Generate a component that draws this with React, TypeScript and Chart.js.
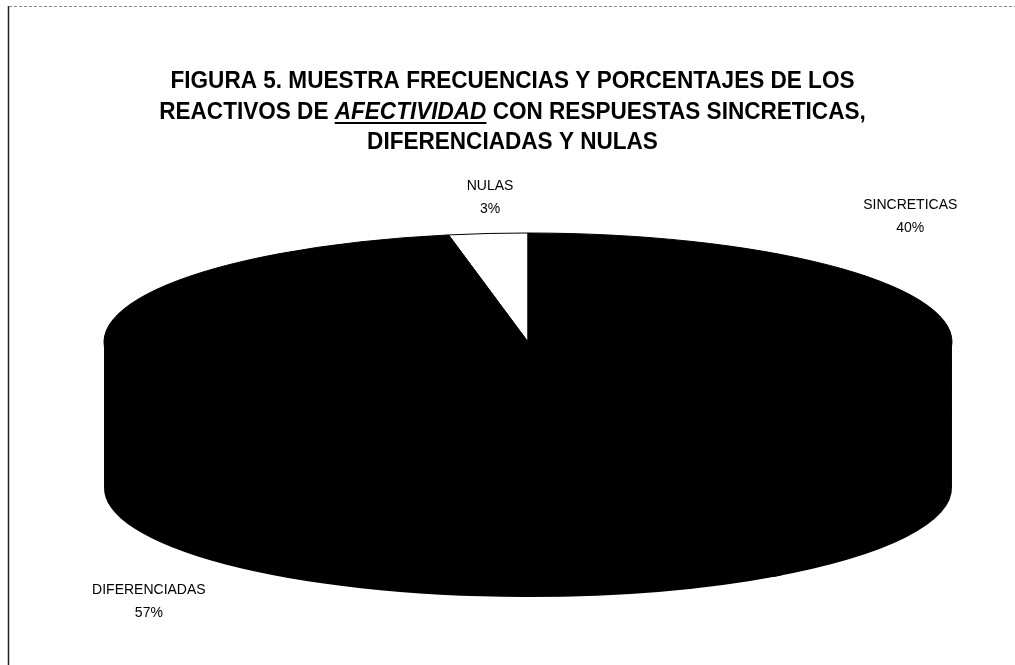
import React, { useEffect, useRef } from "react";
import { Chart, registerables } from "chart.js";

Chart.register(...registerables);

// ---- data ----
const categories = ["SINCRETICAS", "DIFERENCIADAS", "NULAS"];
const percentages = [40, 57, 3];
const sliceColors = ["#000000", "#000000", "#ffffff"];
const sideColors = ["#000000", "#000000", "#000000"];

// title lines: each line is a list of [text, style] segments
const titleLine1 = [["FIGURA 5. MUESTRA FRECUENCIAS Y PORCENTAJES DE LOS", "normal"]];
const titleLine2 = [
  ["REACTIVOS DE ", "normal"],
  ["AFECTIVIDAD", "emph"],
  [" CON RESPUESTAS SINCRETICAS,", "normal"],
];
const titleLine3 = [["DIFERENCIADAS Y NULAS", "normal"]];
const titleLines = [titleLine1, titleLine2, titleLine3];

// label placement relative to each slice's rim point (styling, not data)
const labelShift = [
  [-21, -92],
  [10, 70],
  [2, -36],
];

const TILT = 0.257;

function geometry(chart: any) {
  const area = chart.chartArea;
  const a = (area.right - area.left) / 2;
  const b = a * TILT;
  const depth = area.bottom - area.top - 2 * b;
  const cx = (area.left + area.right) / 2;
  const cy = area.top + b;
  return { a, b, depth, cx, cy };
}

const framePlugin = {
  id: "frameAndTitle",
  beforeDraw(chart: any) {
    const ctx = chart.ctx;
    const W = chart.width;
    const H = chart.height;
    ctx.save();
    ctx.fillStyle = "#ffffff";
    ctx.fillRect(0, 0, W, H);
    // left border
    ctx.strokeStyle = "#222222";
    ctx.lineWidth = 1.5;
    ctx.beginPath();
    ctx.moveTo(8.5, 6);
    ctx.lineTo(8.5, H);
    ctx.stroke();
    // top dotted border
    ctx.strokeStyle = "#8a8a8a";
    ctx.lineWidth = 1;
    ctx.setLineDash([3, 2]);
    ctx.beginPath();
    ctx.moveTo(9, 6.5);
    ctx.lineTo(W, 6.5);
    ctx.stroke();
    ctx.setLineDash([]);

    // title
    const size = 24;
    const sx = 0.94;
    const fam = "'Liberation Sans', Arial, sans-serif";
    const fontFor = (st: string) =>
      st === "emph" ? `italic bold ${size}px ${fam}` : `bold ${size}px ${fam}`;
    const centerX = W / 2 + 5;
    const baselines = [88, 119, 149];
    ctx.fillStyle = "#000000";
    ctx.textBaseline = "alphabetic";
    ctx.textAlign = "left";
    titleLines.forEach((line, li) => {
      let total = 0;
      const widths = line.map(([t, st]) => {
        ctx.font = fontFor(st);
        const w = ctx.measureText(t).width;
        total += w;
        return w;
      });
      ctx.save();
      ctx.translate(centerX, baselines[li]);
      ctx.scale(sx, 1);
      let x = -total / 2;
      line.forEach(([t, st], i) => {
        ctx.font = fontFor(st);
        ctx.fillText(t, x, 0);
        if (st === "emph") {
          ctx.fillRect(x, 3, widths[i], 2);
        }
        x += widths[i];
      });
      ctx.restore();
    });
    ctx.restore();
  },
  afterDraw(chart: any) {
    const meta = chart.getDatasetMeta(0);
    const { a, b, depth, cx, cy } = geometry(chart);
    const ctx = chart.ctx;
    const data = chart.data.datasets[0].data as number[];
    const total = data.reduce((s, v) => s + v, 0);
    ctx.save();
    ctx.fillStyle = "#000000";
    ctx.textAlign = "center";
    ctx.textBaseline = "middle";
    meta.data.forEach((el: any, i: number) => {
      const { startAngle, endAngle } = el.getProps(["startAngle", "endAngle"], true);
      const mid = (startAngle + endAngle) / 2;
      const front = Math.sin(mid) > 0;
      const px = cx + a * Math.cos(mid) + labelShift[i][0];
      const py = cy + b * Math.sin(mid) + (front ? depth : 0) + labelShift[i][1];
      const pct = Math.round((data[i] / total) * 100) + "%";
      ctx.font = "14px 'Liberation Sans', Arial, sans-serif";
      ctx.fillText(chart.data.labels[i], px, py - 11);
      ctx.fillText(pct, px, py + 12);
    });
    ctx.restore();
  },
};

const pie3dPlugin = {
  id: "pie3d",
  beforeDatasetsDraw(chart: any) {
    const meta = chart.getDatasetMeta(0);
    const { a, b, depth, cx, cy } = geometry(chart);
    const ctx = chart.ctx;
    const overlap = 0.012;
    ctx.save();
    // side walls (front half only); slightly overlapping to avoid seams
    meta.data.forEach((el: any, i: number) => {
      const { startAngle, endAngle } = el.getProps(["startAngle", "endAngle"], true);
      for (const base of [-2 * Math.PI, 0, 2 * Math.PI]) {
        const s = Math.max(startAngle, base);
        const e = Math.min(endAngle, base + Math.PI);
        if (e > s) {
          const s2 = s - overlap;
          const e2 = e + overlap;
          ctx.beginPath();
          ctx.ellipse(cx, cy - 2, a, b, 0, s2, e2, false);
          ctx.ellipse(cx, cy + depth, a, b, 0, e2, s2, true);
          ctx.closePath();
          ctx.fillStyle = sideColors[i];
          ctx.fill();
        }
      }
    });
    // top faces
    meta.data.forEach((el: any) => {
      const { startAngle, endAngle } = el.getProps(["startAngle", "endAngle"], true);
      ctx.beginPath();
      ctx.moveTo(cx, cy);
      ctx.ellipse(cx, cy, a, b, 0, startAngle, endAngle, false);
      ctx.closePath();
      ctx.fillStyle = el.options.backgroundColor;
      ctx.fill();
    });
    meta.data.forEach((el: any) => {
      const { startAngle, endAngle } = el.getProps(["startAngle", "endAngle"], true);
      ctx.beginPath();
      ctx.moveTo(cx, cy);
      ctx.ellipse(cx, cy, a, b, 0, startAngle, endAngle, false);
      ctx.closePath();
      ctx.strokeStyle = el.options.borderColor;
      ctx.lineWidth = el.options.borderWidth;
      ctx.stroke();
    });
    ctx.restore();
    return false;
  },
};

export default function App() {
  const ref = useRef<HTMLCanvasElement | null>(null);
  useEffect(() => {
    if (!ref.current) return;
    const chart = new Chart(ref.current, {
      type: "pie",
      data: {
        labels: categories,
        datasets: [
          {
            data: percentages,
            backgroundColor: sliceColors,
            borderColor: "#000000",
            borderWidth: 1,
          },
        ],
      },
      options: {
        responsive: false,
        maintainAspectRatio: false,
        animation: false,
        events: [],
        layout: { padding: { left: 104, right: 63, top: 233, bottom: 68 } },
        plugins: {
          legend: { display: false },
          tooltip: { enabled: false },
          title: { display: false },
        },
      },
      plugins: [framePlugin, pie3dPlugin],
    });
    return () => chart.destroy();
  }, []);
  return (
    <div style={{ position: "fixed", left: 0, top: 0, width: 1015, height: 665, background: "#fff" }}>
      <canvas ref={ref} width={1015} height={665} style={{ display: "block", width: 1015, height: 665 }} />
    </div>
  );
}
